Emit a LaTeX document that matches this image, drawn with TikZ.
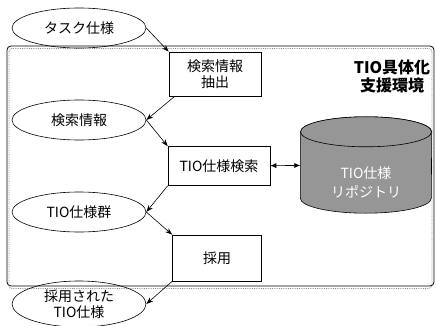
\documentclass[tikz,border=0pt]{standalone}
\usepackage{fontspec}
\setmainfont{Noto Sans CJK JP}
\usetikzlibrary{shapes.geometric, arrows, arrows.meta}
\definecolor{RepoGray}{RGB}{150,150,150}

\begin{document}
\begin{tikzpicture}[node distance=92pt, x=1pt, y=-1pt]
	\tikzstyle{data} = [ellipse, minimum width=134pt, minimum height=40pt, inner sep=1pt, align=center, draw=black, line width=0.6pt, font=\fontsize{14}{16}\selectfont]
	\tikzstyle{process} = [rectangle, minimum width=92pt, minimum height=44pt, align=center, draw=black, line width=0.6pt, font=\fontsize{14}{16}\selectfont]
	\tikzstyle{repo} = [rectangle, minimum width=131pt, minimum height=96pt, inner sep=0pt]
	\tikzstyle{repobody} = [draw=black, line width=0.6pt, fill=RepoGray]
	\tikzstyle{frame} = [draw=black, line width=0.8pt, rounded corners=4pt]
	\tikzstyle{frameshade} = [draw=black!45, densely dotted, line width=0.8pt, rounded corners=3pt]
	\tikzstyle{arrow} = [line width=0.6pt, -{Stealth[length=7pt, width=5pt]}]
	\useasboundingbox (0,0) rectangle (436,326);

	% environment frame
	\draw [frame] (7,46) rectangle (434,286);
	\draw [frameshade] (9,48.5) rectangle (432,288.5);
	\node (title) [align=center, font=\fontsize{16}{18}\selectfont\bfseries] at (392,76) {TIO具体化\\支援環境};

	% data
	\node (spec) [data] at (79,28) {タスク仕様};
	\node (info) [data, below of=spec] {検索情報};
	\node (group) [data, below of=info] {TIO仕様群};
	\node (adopted) [data, below of=group, minimum height=46pt] {採用された\\TIO仕様};

	% processes
	\node (extract) [process] at (215,74) {検索情報\\抽出};
	\node (search) [process, below of=extract, xshift=4pt, minimum width=102pt, minimum height=39pt] {TIO仕様検索};
	\node (adopt) [process, below of=search, xshift=-2pt, minimum width=89pt, minimum height=46pt] {採用};

	% repository cylinder
	\node (repo) [repo] at (366,165) {};
	\draw [repobody] ([yshift=-15pt]repo.north west) -- ([yshift=15pt]repo.south west)
		arc [start angle=180, end angle=360, x radius=65.5pt, y radius=15pt]
		-- ([yshift=-15pt]repo.north east)
		arc [start angle=0, end angle=180, x radius=65.5pt, y radius=15pt] -- cycle;
	\draw [repobody] ([yshift=-15pt]repo.north) ellipse [x radius=65.5pt, y radius=15pt];
	\node (repotext) [align=center, text=white, font=\fontsize{14}{19}\selectfont] at ([yshift=-17pt]repo.center) {TIO仕様\\リポジトリ};

	\draw [arrow] (spec.east) -- (extract.north west);
	\draw [arrow] ([xshift=6pt]extract.south west) -- (info.east);
	\draw [arrow] (info.east) -- (search.north west);
	\draw [arrow] (search.south west) -- (group.east);
	\draw [arrow] (group.east) -- (adopt.north west);
	\draw [arrow] (adopt.south west) -- (adopted.east);
	\draw [line width=0.6pt, {Latex[length=6pt, width=5pt]}-{Latex[length=6pt, width=5pt]}] (search) -- (repo);
\end{tikzpicture}
\end{document}
